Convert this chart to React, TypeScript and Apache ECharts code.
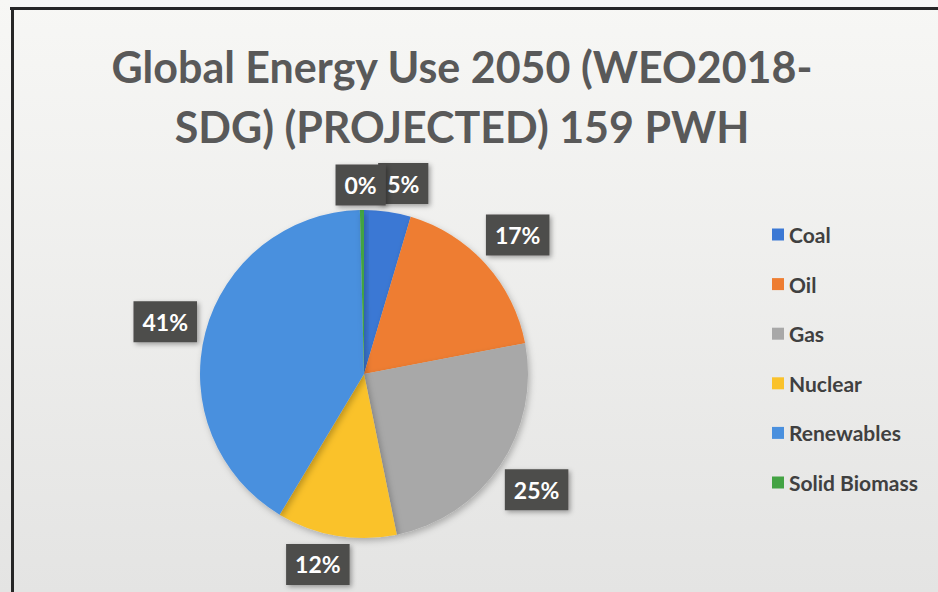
import React, { useEffect, useRef } from 'react';
import * as echarts from 'echarts';

const titleLines = ['Global Energy Use 2050 (WEO2018-', 'SDG) (PROJECTED) 159 PWH'];
const categories = ['Coal', 'Oil', 'Gas', 'Nuclear', 'Renewables', 'Solid Biomass'];
const shares = [4.6, 17.4, 24.8, 11.8, 41.0, 0.4];
const colors = ['#3b78d4', '#ee7d31', '#a8a8a8', '#fac22b', '#4a90de', '#43a343'];

const W = 938;
const H = 592;
const CX = 364;
const CY = 374;
const R = 164;
const FONT = 'Lato, "Open Sans", sans-serif';

export default function App() {
  const ref = useRef<HTMLDivElement>(null);
  useEffect(() => {
    document.body.style.margin = '0';
    if (!ref.current) return;
    const chart = echarts.init(ref.current, undefined, { renderer: 'svg' });
    const total = shares.reduce((a, b) => a + b, 0);
    const midAngle = (i: number) => {
      let before = 0;
      for (let k = 0; k < i; k++) before += shares[k];
      return ((before + shares[i] / 2) / total) * Math.PI * 2;
    };
    chart.setOption({
      animation: false,
      backgroundColor: {
        type: 'linear', x: 0, y: 0, x2: 0, y2: 1,
        colorStops: [
          { offset: 0, color: '#f7f7f5' },
          { offset: 1, color: '#e4e4e3' },
        ],
      },
      title: {
        text: titleLines.join('\n'),
        left: 462,
        top: 36,
        padding: 0,
        textAlign: 'center',
        textStyle: {
          fontFamily: FONT,
          fontSize: 43,
          lineHeight: 60,
          fontWeight: 'bold',
          color: '#595959',
        },
      },
      legend: {
        orient: 'vertical',
        left: 772,
        top: 224,
        padding: 0,
        itemWidth: 12,
        itemHeight: 12,
        itemGap: 28.6,
        icon: 'rect',
        data: categories,
        textStyle: {
          fontFamily: FONT,
          fontSize: 21,
          lineHeight: 21,
          color: '#404040',
          fontWeight: 'bold',
        },
      },
      graphic: [
        { type: 'rect', shape: { x: 10, y: 7, width: W - 10, height: 3 }, style: { fill: '#262626' } },
        { type: 'rect', shape: { x: 11, y: 7, width: 3, height: H - 7 }, style: { fill: '#262626' } },
      ],
      series: [
        {
          type: 'pie',
          center: [CX, CY],
          radius: R,
          startAngle: 90,
          clockwise: true,
          avoidLabelOverlap: false,
          data: categories.map((name, i) => ({
            name,
            value: shares[i],
            itemStyle: { color: colors[i] },
          })),
          itemStyle: {
            shadowBlur: 6,
            shadowColor: 'rgba(0,0,0,0.25)',
            shadowOffsetX: 2,
            shadowOffsetY: 3,
          },
          label: {
            show: true,
            position: 'outside',
            formatter: (p: any) => Math.round(p.percent) + '%',
            fontFamily: FONT,
            fontSize: 23,
            lineHeight: 24,
            fontWeight: 'bold',
            color: '#ffffff',
            backgroundColor: '#4e4d4b',
            padding: [9, 9, 8, 9],
            shadowBlur: 5,
            shadowColor: 'rgba(0,0,0,0.35)',
            shadowOffsetX: 2,
            shadowOffsetY: 2,
          },
          labelLine: { show: false, length: 20, length2: 0 },
          labelLayout: (p: any) => {
            const w = p.labelRect.width;
            const h = p.labelRect.height;
            const th = midAngle(p.dataIndex);
            const ux = Math.sin(th);
            const uy = -Math.cos(th);
            const a = (ux >= 0 ? 1 : -1) * w / 2;
            const b = (uy >= 0 ? 1 : -1) * h / 2;
            const D = R + 6;
            const pp = ux * a + uy * b;
            const t = pp + Math.sqrt(Math.max(0, pp * pp - (a * a + b * b - D * D)));
            const spread = Math.abs(uy) > 0.9 ? ux * 80 : 0;
            return {
              x: CX + ux * t + spread,
              y: CY + uy * t,
              align: 'center',
              verticalAlign: 'middle',
            };
          },
        },
      ],
    });
    return () => chart.dispose();
  }, []);
  return <div ref={ref} style={{ width: W, height: H }} />;
}
